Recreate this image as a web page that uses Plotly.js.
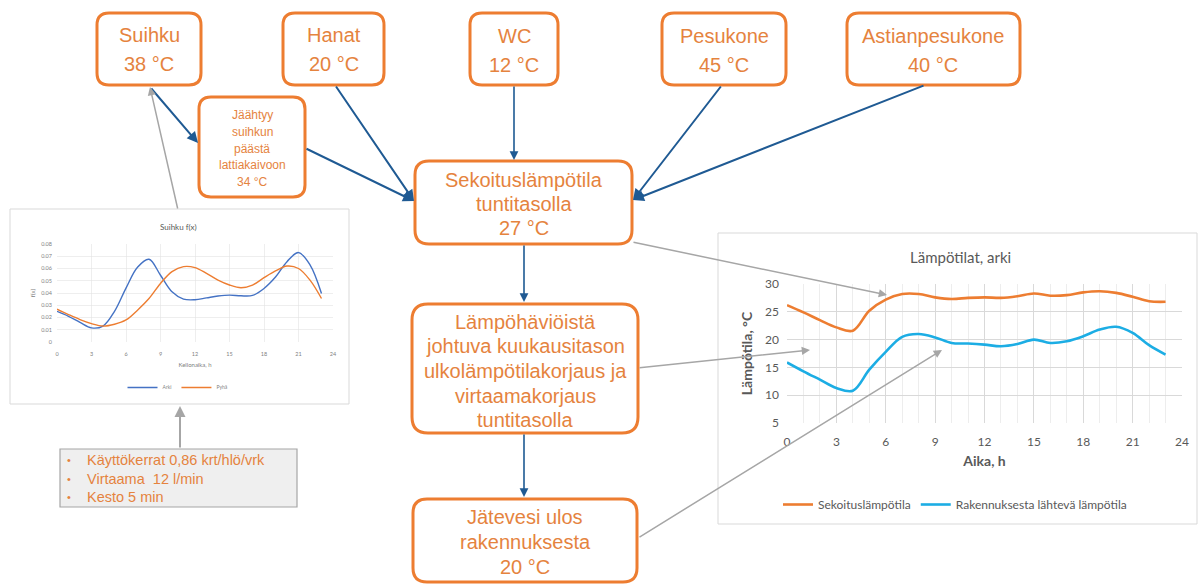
<!DOCTYPE html>
<html>
<head>
<meta charset="utf-8">
<script src="https://cdn.plot.ly/plotly-3.0.1.min.js"></script>
<style>html,body{margin:0;padding:0;background:#fff;}#chart{width:1203px;height:585px;}</style>
</head>
<body>
<div id="chart"></div>
<script>
// ---- data ----
const hours = [0,1,2,3,4,5,6,7,8,9,10,11,12,13,14,15,16,17,18,19,20,21,22,23];
// Suihku f(x)
const arki = [0.025,0.021,0.016,0.0115,0.013,0.025,0.044,0.061,0.0675,0.0545,0.041,0.035,0.0345,0.036,0.0375,0.0383,0.0377,0.038,0.0437,0.053,0.0656,0.073,0.063,0.0396];
const pyha = [0.0268,0.0224,0.0183,0.015,0.013,0.0145,0.018,0.026,0.0355,0.0478,0.0574,0.0615,0.0607,0.056,0.0505,0.0465,0.0443,0.0465,0.0525,0.058,0.062,0.060,0.0505,0.0355];
// Lämpötilat, arki
const sekoitus = [26.2,24.9,23.5,22.2,21.6,25.2,27.2,28.2,28.2,27.6,27.3,27.5,27.6,27.5,27.8,28.3,27.9,28.0,28.5,28.7,28.4,27.7,26.9,26.8];
const rakennus = [15.9,14.3,12.8,11.3,10.8,14.6,17.8,20.5,21.0,20.4,19.4,19.3,19.1,18.8,19.2,20.0,19.4,19.7,20.6,21.8,22.3,21.2,19.0,17.3];
const seriesNames = ["Sekoituslämpötila","Rakennuksesta lähtevä lämpötila"];
const smallNames = ["Arki","Pyhä"];
const xTicks = [0,3,6,9,12,15,18,21,24];

// ---- helpers ----
const W = 1203, H = 585;
const X = p => p / W, Y = p => 1 - p / H;
const ORANGE = "#ED7D31", TXT = "#E5833E", NAVY = "#1F5A93", GRAYA = "#A6A6A6";
const BOXFONT = "Liberation Sans, Arial, sans-serif";
const CHFONT = "Lato, Open Sans, sans-serif";

function rrect(x0, y0, x1, y1, r, color, width, fill, layer) {
  const p = (x, y) => X(x).toFixed(5) + "," + Y(y).toFixed(5);
  const path = "M" + p(x0 + r, y0) + " L" + p(x1 - r, y0) + " Q" + p(x1, y0) + " " + p(x1, y0 + r) +
    " L" + p(x1, y1 - r) + " Q" + p(x1, y1) + " " + p(x1 - r, y1) +
    " L" + p(x0 + r, y1) + " Q" + p(x0, y1) + " " + p(x0, y1 - r) +
    " L" + p(x0, y0 + r) + " Q" + p(x0, y0) + " " + p(x0 + r, y0) + " Z";
  return {type: "path", xref: "paper", yref: "paper", path: path,
    line: {color: color, width: width}, fillcolor: fill, layer: layer || "above"};
}
function rect(x0, y0, x1, y1, color, width, fill) {
  return {type: "rect", xref: "paper", yref: "paper", x0: X(x0), x1: X(x1), y0: Y(y1), y1: Y(y0),
    line: {color: color, width: width}, fillcolor: fill, layer: "below"};
}
function txt(s, x, y, size, color, opts) {
  opts = opts || {};
  return {text: s, xref: "paper", yref: "paper", x: X(x), y: Y(y), showarrow: false,
    xanchor: opts.xanchor || "center", yanchor: "middle", textangle: opts.angle || 0,
    font: {family: opts.family || BOXFONT, size: size, color: color, weight: opts.weight || "normal"}};
}
function arrow(tx, ty, hx, hy, color, width, size) {
  return {text: "", xref: "paper", yref: "paper", x: X(hx), y: Y(hy), axref: "pixel", ayref: "pixel",
    ax: tx - hx, ay: ty - hy, showarrow: true, arrowhead: 2, arrowsize: size || 1.1,
    arrowwidth: width, arrowcolor: color, standoff: 0, startstandoff: 0};
}
function boxLines(lines, cx, ys, size) {
  return lines.map((l, i) => txt(l, cx, ys[i], size, TXT));
}

// ---- traces ----
const traces = [
  {x: hours, y: arki, name: smallNames[0], type: "scatter", mode: "lines", xaxis: "x", yaxis: "y",
   line: {color: "#4472C4", width: 1.4, shape: "spline", smoothing: 1}, legend: "legend2"},
  {x: hours, y: pyha, name: smallNames[1], type: "scatter", mode: "lines", xaxis: "x", yaxis: "y",
   line: {color: "#ED7D31", width: 1.4, shape: "spline", smoothing: 1}, legend: "legend2"},
  {x: hours, y: sekoitus, name: seriesNames[0], type: "scatter", mode: "lines", xaxis: "x2", yaxis: "y2",
   line: {color: "#ED7D31", width: 2.6, shape: "spline", smoothing: 1}, legend: "legend"},
  {x: hours, y: rakennus, name: seriesNames[1], type: "scatter", mode: "lines", xaxis: "x2", yaxis: "y2",
   line: {color: "#1CADE4", width: 2.6, shape: "spline", smoothing: 1}, legend: "legend"}
];

// ---- shapes ----
const shapes = [
  rect(10, 209, 349, 404, "#D9D9D9", 1, "rgba(0,0,0,0)"),
  rect(718, 233, 1197, 524, "#D9D9D9", 1, "rgba(0,0,0,0)"),
  rect(60, 449, 297, 507, "#A6A6A6", 1.2, "#EFEFEF"),
  rrect(97, 13, 201, 85, 12, ORANGE, 3, "#fff"),
  rrect(283, 13, 384, 85, 12, ORANGE, 3, "#fff"),
  rrect(470, 13, 558, 85, 12, ORANGE, 3, "#fff"),
  rrect(662, 13, 786, 85, 12, ORANGE, 3, "#fff"),
  rrect(847, 13, 1020, 85, 12, ORANGE, 3, "#fff"),
  rrect(199, 97, 305, 197, 12, ORANGE, 3, "#fff"),
  rrect(415, 161, 632, 244, 14, ORANGE, 3, "#fff"),
  rrect(412, 304, 638, 433, 16, ORANGE, 3, "#fff"),
  rrect(413, 499, 637, 582, 14, ORANGE, 3, "#fff")
];

// ---- annotations ----
let ann = [];
ann = ann.concat(boxLines(["Suihku", "38 °C"], 149, [35, 64], 20));
ann = ann.concat(boxLines(["Hanat", "20 °C"], 333.5, [35, 64], 20));
ann = ann.concat(boxLines(["WC", "12 °C"], 514, [36, 65], 20));
ann = ann.concat(boxLines(["Pesukone", "45 °C"], 724, [36, 65], 20));
ann = ann.concat(boxLines(["Astianpesukone", "40 °C"], 933.5, [36, 65], 20));
ann = ann.concat(boxLines(["Jäähtyy", "suihkun", "päästä", "lattiakaivoon", "34 °C"], 252, [115, 132, 148.5, 165, 182], 12));
ann = ann.concat(boxLines(["Sekoituslämpötila", "tuntitasolla", "27 °C"], 523.5, [180, 204, 228], 20));
ann = ann.concat(boxLines(["Lämpöhäviöistä", "johtuva kuukausitason", "ulkolämpötilakorjaus ja", "virtaamakorjaus", "tuntitasolla"], 525, [322, 346, 371, 396, 420], 20));
ann = ann.concat(boxLines(["Jätevesi ulos", "rakennuksesta", "20 °C"], 525, [517, 542, 567], 20));
// info box
const info = ["Käyttökerrat 0,86 krt/hlö/vrk", "Virtaama  12 l/min", "Kesto 5 min"];
[460, 479, 497].forEach((y, i) => {
  ann.push(txt("•", 65, y, 11, TXT, {xanchor: "left"}));
  ann.push(txt(info[i], 85, y, 14.5, TXT, {xanchor: "left"}));
});
// chart titles
ann.push(txt("Suihku f(x)", 178, 227, 8, "#595959", {family: CHFONT}));
ann.push(txt("Lämpötilat, arki", 961, 257, 15, "#595959", {family: CHFONT}));
// navy arrows
ann.push(arrow(150, 87, 198, 143, NAVY, 2));
ann.push(arrow(305, 148, 414, 201, NAVY, 2));
ann.push(arrow(335, 85, 414, 201, NAVY, 2));
ann.push(arrow(514, 85, 514, 160, NAVY, 1.6));
ann.push(arrow(722, 85, 633, 200, NAVY, 2));
ann.push(arrow(925, 85, 633, 200, NAVY, 2));
ann.push(arrow(524, 244, 524, 302, NAVY, 1.6));
ann.push(arrow(524, 433, 524, 497, NAVY, 1.6));
// gray arrows
ann.push(arrow(178, 210, 150, 87, GRAYA, 1.5));
ann.push(arrow(180, 449, 180, 406, GRAYA, 2));
ann.push(arrow(632, 242, 887, 295, GRAYA, 1.5));
ann.push(arrow(638, 368, 810, 350, GRAYA, 1.5));
ann.push(arrow(638, 538, 942, 350, GRAYA, 1.5));

const layout = {
  width: W, height: H,
  margin: {l: 0, r: 0, t: 0, b: 0},
  paper_bgcolor: "#ffffff", plot_bgcolor: "rgba(0,0,0,0)",
  font: {family: CHFONT, color: "#595959"},
  showlegend: true,
  xaxis: {domain: [X(57), X(333)], anchor: "y", range: [0, 24], tickvals: xTicks,
    showgrid: true, gridcolor: "#E3E3E3", gridwidth: 0.6, zeroline: false, showline: false, ticks: "",
    ticklabelstandoff: 7,
    tickfont: {size: 5.5, color: "#7F7F7F", family: CHFONT},
    title: {text: "Kellonaika, h", font: {size: 6, color: "#7F7F7F", family: CHFONT}, standoff: 7}},
  yaxis: {domain: [Y(342), Y(244)], anchor: "x", range: [0, 0.08], dtick: 0.01,
    showgrid: true, gridcolor: "#E3E3E3", gridwidth: 0.6, zeroline: false, showline: false, ticks: "",
    ticklabelstandoff: 4,
    tickfont: {size: 5.5, color: "#7F7F7F", family: CHFONT},
    title: {text: "f(x)", font: {size: 6, color: "#7F7F7F", family: CHFONT}, standoff: 5}},
  xaxis2: {domain: [X(787), X(1182)], anchor: "y2", range: [0, 24], tickvals: xTicks,
    showgrid: true, gridcolor: "#D9D9D9", gridwidth: 1, zeroline: false, showline: false, ticks: "",
    minor: {dtick: 1, showgrid: true, gridcolor: "#EDEDED", gridwidth: 1, ticks: ""},
    ticklabelstandoff: 10,
    tickfont: {size: 12, color: "#595959", family: CHFONT},
    title: {text: "Aika, h", font: {size: 14, color: "#595959", family: CHFONT, weight: "bold"}, standoff: 8}},
  yaxis2: {domain: [Y(423), Y(284)], anchor: "x2", range: [5, 30], dtick: 5,
    showgrid: true, gridcolor: "#D9D9D9", gridwidth: 1, zeroline: false, showline: false, ticks: "",
    ticklabelstandoff: 7,
    tickfont: {size: 12, color: "#595959", family: CHFONT},
    title: {text: "Lämpötila, °C", font: {size: 14, color: "#595959", family: CHFONT, weight: "bold"}, standoff: 9}},
  legend: {orientation: "h", x: X(778), y: Y(490), xanchor: "left", yanchor: "top",
    bgcolor: "rgba(0,0,0,0)", font: {size: 12, color: "#595959", family: CHFONT}, itemwidth: 30,
    tracegroupgap: 0},
  legend2: {orientation: "h", x: X(178), y: Y(373), xanchor: "center", yanchor: "top",
    bgcolor: "rgba(0,0,0,0)", font: {size: 5, color: "#7F7F7F", family: CHFONT}, itemwidth: 30},
  shapes: shapes,
  annotations: ann
};

Plotly.newPlot("chart", traces, layout, {displayModeBar: false, staticPlot: true});
</script>
</body>
</html>
